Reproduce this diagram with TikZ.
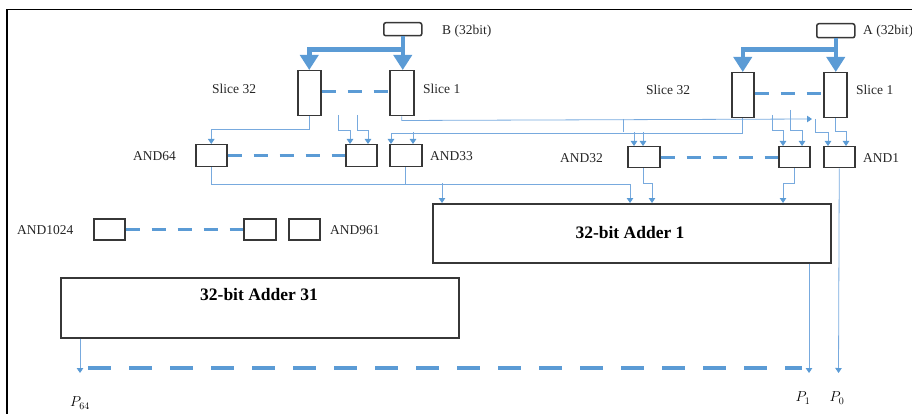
\documentclass[tikz,border=0pt]{standalone}
\usepackage{fontspec}
\setmainfont{Liberation Serif}
\usetikzlibrary{arrows.meta,calc}
\definecolor{busblue}{RGB}{91,155,213}
\definecolor{wireblue}{RGB}{120,170,222}
\definecolor{boxgray}{RGB}{55,55,55}
\begin{document}
\begin{tikzpicture}[x=1pt,y=-1pt,
  blk/.style={draw=boxgray,line width=1.5pt,fill=white,inner sep=0pt,anchor=north west},
  lbl/.style={font=\fontsize{13.5}{16}\selectfont,anchor=west,inner sep=0pt,text=black!85},
  addlbl/.style={font=\bfseries\fontsize{17.5}{20}\selectfont,inner sep=0pt},
  plbl/.style={font=\fontsize{14}{16}\selectfont,inner sep=0pt},
  wire/.style={draw=wireblue,line width=0.8pt,-{Triangle[length=5pt,width=6.5pt,color=busblue]}},
  plain/.style={draw=wireblue,line width=0.8pt},
  bus/.style={draw=busblue,line width=4.5pt,-{Triangle[length=15pt,width=18pt]}},
  dashline/.style={draw=busblue,line width=3pt,dash pattern=on 14pt off 12pt},
  dashbig/.style={draw=busblue,line width=3.5pt,dash pattern=on 23pt off 18pt},
  frame/.style={draw=black,line width=1.2pt}]
\useasboundingbox (0,0) rectangle (912,414);
\clip (0,0) rectangle (912,414);
% frame
\coordinate (f1) at (7,414);
\coordinate (f2) at (7,9.5);
\coordinate (f3) at (912,9.5);
\draw[frame] (f1) -- (f2) -- (f3);
% inputs
\node[blk,rounded corners=2pt,minimum width=38pt,minimum height=13pt] (Bbox) at (383,22) {};
\node[blk,rounded corners=2pt,minimum width=38pt,minimum height=14pt] (Abox) at (816,23) {};
\node[lbl] (Blbl) at (442,31) {B (32bit)};
\node[lbl] (Albl) at (863,31) {A (32bit)};
% slices
\node[blk,minimum width=23pt,minimum height=45pt] (sB32) at (297,70) {};
\node[blk,minimum width=24pt,minimum height=45pt] (sB1) at (389,70) {};
\node[blk,minimum width=22pt,minimum height=45pt] (sA32) at (731,72) {};
\node[blk,minimum width=23pt,minimum height=45pt] (sA1) at (823,72) {};
\node[lbl] (lsB32) at (212,89) {Slice 32};
\node[lbl] (lsB1) at (423,89) {Slice 1};
\node[lbl] (lsA32) at (646,90) {Slice 32};
\node[lbl] (lsA1) at (856,90) {Slice 1};
% AND gates
\node[blk,minimum width=31pt,minimum height=22pt] (and64) at (195,144) {};
\node[blk,minimum width=31pt,minimum height=22pt] (andB2) at (345,144) {};
\node[blk,minimum width=32pt,minimum height=22pt] (and33) at (389,144) {};
\node[blk,minimum width=32pt,minimum height=21pt] (and32) at (627,146) {};
\node[blk,minimum width=31pt,minimum height=21pt] (andA2) at (778,146) {};
\node[blk,minimum width=31pt,minimum height=21pt] (and1) at (823,146) {};
\node[blk,minimum width=31pt,minimum height=21pt] (and1024) at (93,218) {};
\node[blk,minimum width=32pt,minimum height=21pt] (andC2) at (243,218) {};
\node[blk,minimum width=31pt,minimum height=21pt] (and961) at (288,218) {};
\node[lbl] (l64) at (133,156) {AND64};
\node[lbl] (l33) at (430,156) {AND33};
\node[lbl] (l32) at (560,158) {AND32};
\node[lbl] (l1) at (863,158) {AND1};
\node[lbl] (l1024) at (17,230) {AND1024};
\node[lbl] (l961) at (330,230) {AND961};
% adders
\node[blk,minimum width=398pt,minimum height=59pt] (add1) at (432,203) {};
\node[addlbl] (tadd1) at (630,233) {32-bit Adder 1};
\node[blk,minimum width=398pt,minimum height=60pt] (add31) at (60,277) {};
\node[addlbl] (tadd31) at (259,295) {32-bit Adder 31};
% outputs labels
\coordinate (p64) at (80,373);
\coordinate (p1) at (809,373);
\coordinate (p0) at (838.5,373);
\node[plbl] (lp64) at (80,403) {$P_{64}$};
\node[plbl] (lp1) at (803,398) {$P_{1}$};
\node[plbl] (lp0) at (837,398) {$P_{0}$};
% dashed links
\draw[dashline] (sB32.east |- 0,92) -- (sB1.west |- 0,92);
\draw[dashline] (sA32.east |- 0,94) -- (sA1.west |- 0,94);
\draw[dashline] (and64) -- (andB2);
\draw[dashline] (and32) -- (andA2);
\draw[dashline] (and1024) -- (andC2);
\coordinate (d1) at (88,368);
\coordinate (d2) at (802,368);
\draw[dashbig] (d1) -- (d2);
% buses
\draw[bus] (Bbox.south) -- (Bbox.south |- sB1.north);
\draw[bus] (Bbox.south) ++(0,13) -| (sB32.north);
\draw[bus] (Abox.south) -- (Abox.south |- sA1.north);
\draw[bus] (Abox.south) ++(0,11) -| (sA32.north);
% wires from slices to ANDs
\draw[wire] (sB32.south) -- ++(0,13) -| (and64.north);
\coordinate (sb1) at (338,115);
\coordinate (sb2) at (357,115);
\draw[wire] (sb1) -- ++(0,15) -| ([xshift=5pt]andB2.north west);
\draw[wire] (sb2) -- ++(0,15) -| ([xshift=23pt]andB2.north west);
\coordinate (e1) at (812,119);
\coordinate (e2) at (815,119);
\draw[wire] (sB1.south) -- ++(0,4) -- (e1);
\draw[wire] (e2) -- ++(0,13) -| ([xshift=5pt]and1.north west);
\draw[wire] (sA32.south) -- ++(0,15) -| ([xshift=2pt]and33.north west);
\draw[wire] ([xshift=24pt]and33.north west) ++(0,-12) -- ++(0,12);
\coordinate (v1) at (623,119);
\coordinate (v2) at (623,132);
\draw[plain] (v1) -- (v2);
\draw[wire] ([xshift=7pt]and32.north west) ++(0,-14) -- ++(0,14);
\draw[wire] ([xshift=16pt]and32.north west) ++(0,-14) -- ++(0,14);
\coordinate (sa1) at (772,115);
\coordinate (sa2) at (790,110);
\draw[wire] (sa1) -- ++(0,15) -| ([xshift=5pt]andA2.north west);
\draw[wire] (sa2) -- ++(0,20) -| ([xshift=24pt]andA2.north west);
\draw[wire] (sA1.south) -- ++(0,13) -| ([xshift=23pt]and1.north west);
% wires from ANDs to adder 1
\draw[wire] (and64.south) -- ++(0,17) -| ([xshift=198pt]add1.north west);
\draw[plain] (and33.south) -- ++(0,17);
\draw[wire] ([xshift=10pt]add1.north west) ++(0,-20) -- ++(0,20);
\draw[wire] (and32.south) -- ++(0,15) -| ([xshift=220pt]add1.north west);
\draw[wire] (andA2.south) -- ++(0,15) -| ([xshift=351pt]add1.north west);
% outputs
\draw[wire] (and1.south) -- (p0);
\draw[wire] (add1.south west -| p1) -- (p1);
\draw[wire] (add31.south west -| p64) -- (p64);
\end{tikzpicture}
\end{document}
